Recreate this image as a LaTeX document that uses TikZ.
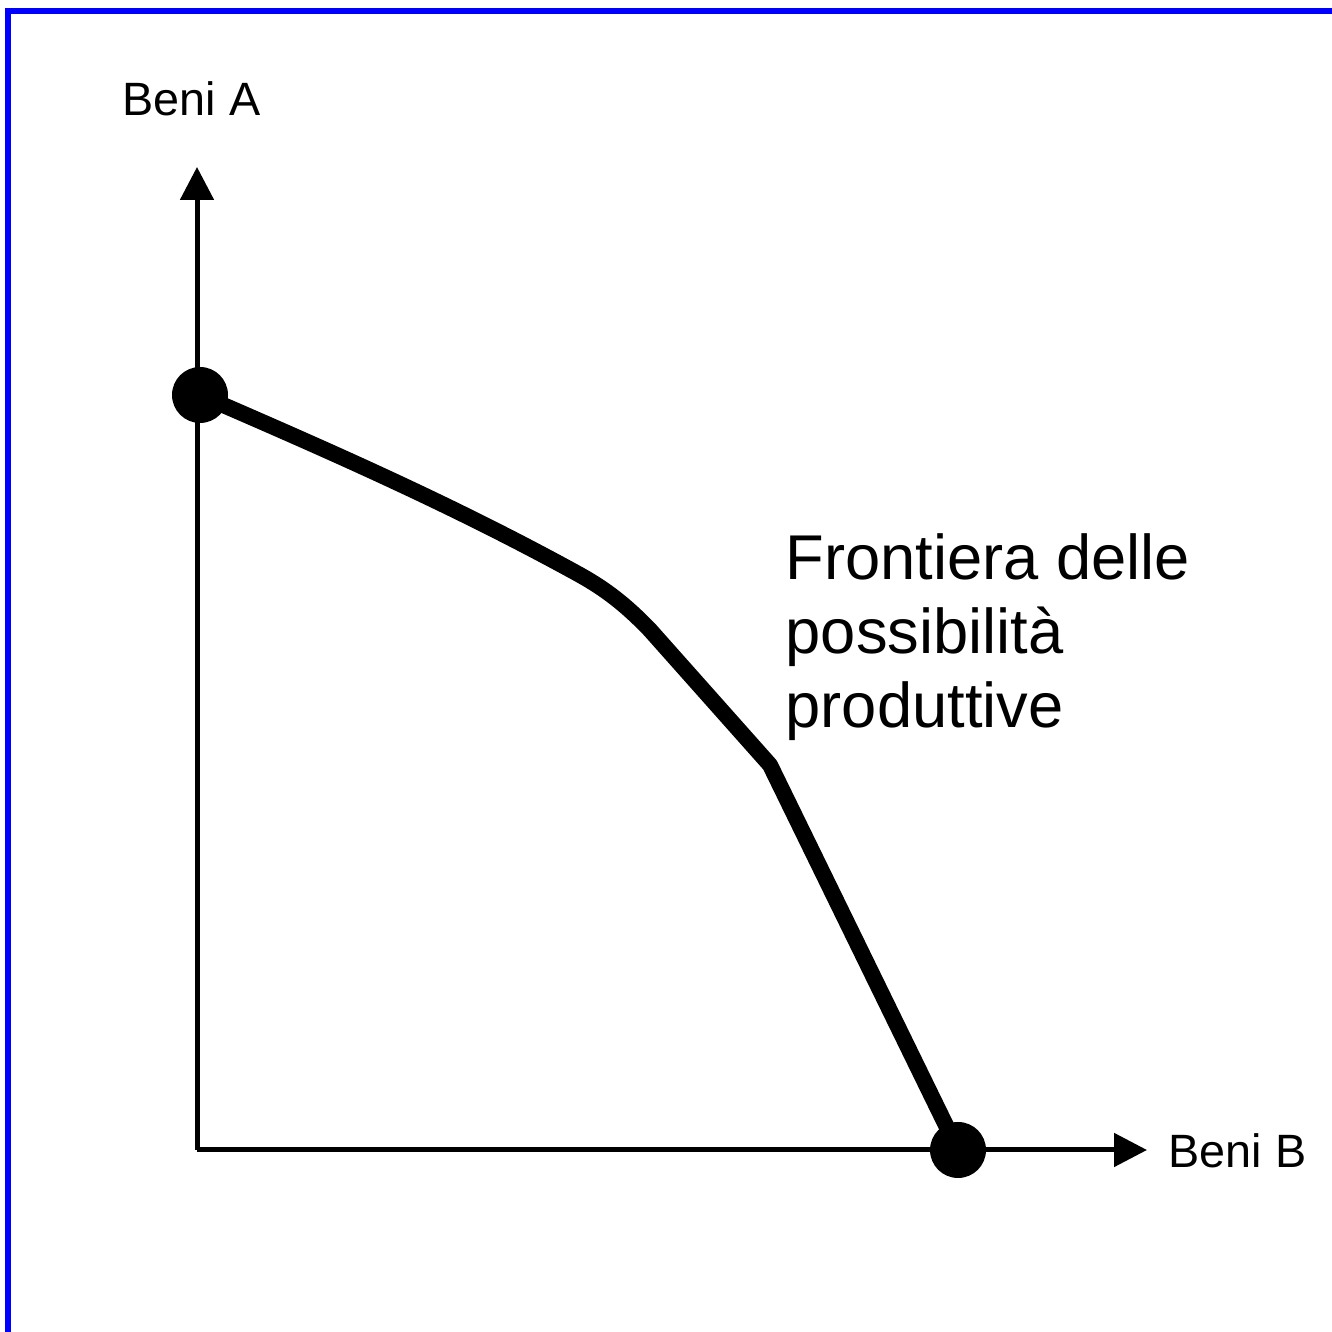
\documentclass[tikz,border=0pt]{standalone}
\usepackage{fontspec}
\setmainfont{Liberation Sans}
\usetikzlibrary{arrows.meta}

\tikzset{
  axis/.style={line width=0.05cm,-{Triangle[length=0.33cm,width=0.33cm]}},
  dot/.style={circle,fill=black,inner sep=0pt,minimum size=0.56cm},
  frontier/.style={line width=0.16cm,line join=round},
}

\begin{document}
\begin{tikzpicture}
\useasboundingbox (0,0) rectangle (13.32,13.32);
\draw[blue,line width=0.06cm] (0.08,0) -- (0.08,13.21) -- (13.32,13.21);

\coordinate (O) at (1.97,1.82);
\coordinate (yEnd) at (1.97,11.65);
\coordinate (xEnd) at (11.47,1.82);
\draw[axis] (O) -- (yEnd);
\draw[axis] (O) -- (xEnd);

\node[font=\fontsize{13.3}{16}\selectfont,anchor=base west,inner sep=0pt] (labA) at (1.22,12.16) {Beni A};
\node[font=\fontsize{13.3}{16}\selectfont,anchor=base west,inner sep=0pt] (labB) at (11.68,1.64) {Beni B};

\node[dot] (pA) at (2.00,9.37) {};
\node[dot] (pB) at (9.58,1.82) {};

\draw[frontier] (pA.center)
  .. controls (3.27,8.82) and (4.53,8.27) .. (5.80,7.57)
  .. controls (6.05,7.43) and (6.25,7.28) .. (6.50,7.02)
  -- (7.70,5.67) -- (pB.center);

\node[font=\fontsize{18}{21}\selectfont,anchor=north west,align=left,inner sep=0pt] (fpp) at (7.85,7.99)
  {Frontiera delle\\possibilità\\produttive};
\end{tikzpicture}
\end{document}
